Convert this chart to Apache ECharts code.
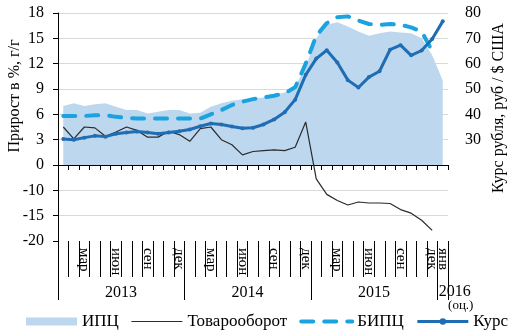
<!DOCTYPE html>
<html><head><meta charset="utf-8">
<script src="https://cdn.jsdelivr.net/npm/echarts@6/dist/echarts.min.js"></script>
<style>html,body{margin:0;padding:0;background:#fff}#c{width:516px;height:335px}</style>
</head><body><div id="c"></div>
<script>
// Categories: Jan 2013 .. Jan 2016
const categories = [
  '01.2013','02.2013','03.2013','04.2013','05.2013','06.2013','07.2013','08.2013','09.2013','10.2013','11.2013','12.2013',
  '01.2014','02.2014','03.2014','04.2014','05.2014','06.2014','07.2014','08.2014','09.2014','10.2014','11.2014','12.2014',
  '01.2015','02.2015','03.2015','04.2015','05.2015','06.2015','07.2015','08.2015','09.2015','10.2015','11.2015','12.2015',
  '01.2016'
];
const monthLabels = [
  '','','мар','','','июн','','','сен','','','дек',
  '','','мар','','','июн','','','сен','','','дек',
  '','','мар','','','июн','','','сен','','','дек',
  'янв'
];
const yearLabels = ['2013','2014','2015','2016'];
const estimateNote = '(оц.)';

// ИПЦ, % г/г
const cpi = [7.0,7.3,7.0,7.2,7.3,6.9,6.5,6.5,6.1,6.3,6.5,6.5,
             6.1,6.2,6.9,7.3,7.6,7.8,7.9,8.0,8.3,8.6,9.3,11.6,
             15.0,16.6,16.9,16.4,15.8,15.3,15.6,15.8,15.7,15.6,15.0,13.0,
             10.0];
// Товарооборот, % г/г (values as read on the left scale labels)
const trade = [4.5,3.1,4.5,4.4,3.4,3.9,4.5,4.1,3.3,3.3,4.0,3.6,
               2.8,4.3,4.5,3.0,2.4,1.2,1.6,1.7,1.8,1.7,2.1,5.1,
               -5.5,-10.8,-12.0,-12.9,-12.3,-12.5,-12.5,-12.6,-13.8,-14.5,-15.9,-17.9,
               null];
// БИПЦ, % г/г
const coreCpi = [5.8,5.8,5.8,5.9,5.9,5.7,5.6,5.5,5.5,5.5,5.5,5.5,
                 5.5,5.5,6.0,6.5,7.1,7.5,7.8,8.0,8.2,8.5,9.2,12.0,
                 15.3,16.8,17.5,17.6,17.1,16.7,16.6,16.7,16.6,16.3,15.8,13.5,
                 null];
// Курс рубля, руб/$США
const rate = [30.3,30.0,30.8,31.5,31.2,32.3,32.8,33.2,32.8,32.3,32.8,33.3,
              34.0,35.3,36.4,36.0,35.2,34.5,34.7,36.0,38.0,40.8,45.8,55.6,
              62.0,65.3,60.5,53.5,50.6,54.7,57.0,65.5,67.3,63.3,65.2,69.7,
              76.7];

// Left axis: tick positions and their printed labels (scale below zero is compressed)
const leftTickValues = [-9,-6,-3,0,3,6,9,12,15,18];
const leftTickLabels = ['-20','-15','-10','0','3','6','9','12','15','18'];
const rightTickLabels = [30,40,50,60,70,80];

// map a printed left-scale value to the axis position
function toAxis(v){
  if (v === null) return null;
  if (v >= 0) return v;
  if (v >= -10) return v * 0.3;
  return -3 + (v + 10) * 0.6;
}

const FONT = 'Liberation Serif';
const yearStartIdx = [0,12,24,36];
const yearLabelIdx = {6:0, 18:1, 30:2, 36:3};

const chart = echarts.init(document.getElementById('c'), null, {renderer:'canvas'});
const gridBox = {left:58, right:68, top:13, bottom:94};
const splitColors = leftTickValues.map(v => (v === -9 || v === 0) ? 'rgba(0,0,0,0)' : '#d9d9d9');

chart.setOption({
  animation:false,
  backgroundColor:'#fff',
  grid:[Object.assign({},gridBox),Object.assign({},gridBox),Object.assign({},gridBox)],
  xAxis:[
    {gridIndex:0,type:'category',data:categories,boundaryGap:true,
     axisLine:{onZero:true,lineStyle:{color:'#000',width:1}},
     axisTick:{show:true,length:5,interval:0,lineStyle:{color:'#000'}},
     axisLabel:{show:false},splitLine:{show:false}},
    {gridIndex:1,type:'category',data:categories,boundaryGap:true,position:'bottom',
     axisLine:{show:false,onZero:false},
     axisTick:{show:true,length:36,interval:0,lineStyle:{color:'#000'}},
     axisLabel:{interval:0,rotate:-90,margin:7,fontFamily:FONT,fontSize:15,color:'#000',
       formatter:(v,i)=>monthLabels[i]},
     splitLine:{show:false}},
    {gridIndex:2,type:'category',data:categories,boundaryGap:true,position:'bottom',
     axisLine:{show:false,onZero:false},
     axisTick:{show:true,length:59,interval:(i)=>yearStartIdx.indexOf(i)>=0,lineStyle:{color:'#000'}},
     axisLabel:{interval:0,margin:44,color:'#000',
       formatter:(v,i)=>{
         const k = yearLabelIdx[i];
         if (k === undefined) return '';
         if (k === 3) return '{b|' + yearLabels[k] + '}\n{c|' + estimateNote + '}';
         return '{a|' + yearLabels[k] + '}';
       },
       rich:{
         a:{fontFamily:FONT,fontSize:16,color:'#000',padding:[0,11,0,0]},
         b:{fontFamily:FONT,fontSize:16,color:'#000',padding:[0,0,0,24],lineHeight:14},
         c:{fontFamily:FONT,fontSize:13,color:'#000',padding:[0,0,0,36],lineHeight:13}
       }},
     splitLine:{show:false}}
  ],
  yAxis:[
    {gridIndex:0,type:'value',min:-9,max:18,interval:3,position:'left',
     axisLine:{show:true,lineStyle:{color:'#000'}},
     axisTick:{show:true,length:5,lineStyle:{color:'#000'}},
     axisLabel:{margin:14,fontFamily:FONT,fontSize:16,color:'#000',
       formatter:v=>{const k=leftTickValues.indexOf(v);return k>=0?leftTickLabels[k]:'';}},
     splitLine:{show:true,lineStyle:{color:splitColors,width:1}}},
    {gridIndex:0,type:'value',min:-10,max:80,interval:10,position:'right',
     axisLine:{show:false},axisTick:{show:false},splitLine:{show:false},
     axisLabel:{margin:17,fontFamily:FONT,fontSize:16,color:'#000',
       formatter:v=>rightTickLabels.indexOf(v)>=0?String(v):''}},
    {gridIndex:1,type:'value',show:false},
    {gridIndex:2,type:'value',show:false}
  ],
  legend:{
    left:21,top:308,itemWidth:51,itemHeight:8,itemGap:12,
    textStyle:{fontFamily:FONT,fontSize:17,color:'#000'},
    data:[
      {name:'ИПЦ',icon:'rect'},
      {name:'Товарооборот',itemStyle:{opacity:0},lineStyle:{width:1.2,color:'#2b2b2b'}},
      {name:'БИПЦ',itemStyle:{opacity:0},lineStyle:{width:4,color:'#1ba3e0',type:[12,11],cap:'round'}},
      {name:'Курс',lineStyle:{width:3,color:'#1f6db3'}}
    ]
  },
  graphic:[
    {type:'text',x:15,y:96,rotation:Math.PI/2,
     style:{text:'Прирост в %, г/г',font:'16px "Liberation Serif"',fill:'#000',
       align:'center',verticalAlign:'middle',textAlign:'center',textVerticalAlign:'middle'}},
    {type:'text',x:499,y:108,rotation:Math.PI/2,
     style:{text:'Курс рубля, руб / $ США',font:'16px "Liberation Serif"',fill:'#000',
       align:'center',verticalAlign:'middle',textAlign:'center',textVerticalAlign:'middle'}}
  ],
  series:[
    {name:'ИПЦ',type:'line',xAxisIndex:0,yAxisIndex:0,data:cpi,symbol:'none',
     color:'#bdd7ee',lineStyle:{width:0,color:'#bdd7ee'},areaStyle:{color:'#bdd7ee',opacity:1},z:1},
    {name:'Товарооборот',type:'line',xAxisIndex:0,yAxisIndex:0,data:trade.map(toAxis),symbol:'none',
     color:'#2b2b2b',lineStyle:{width:1.2,color:'#2b2b2b'},z:3},
    {name:'БИПЦ',type:'line',xAxisIndex:0,yAxisIndex:0,data:coreCpi,symbol:'none',
     color:'#1ba3e0',lineStyle:{width:4,color:'#1ba3e0',type:[12,11],cap:'round'},z:4},
    {name:'Курс',type:'line',xAxisIndex:0,yAxisIndex:1,data:rate,symbol:'circle',symbolSize:4,
     color:'#1f6db3',itemStyle:{color:'#1f6db3'},lineStyle:{width:3,color:'#1f6db3'},z:5}
  ]
});
</script></body></html>
